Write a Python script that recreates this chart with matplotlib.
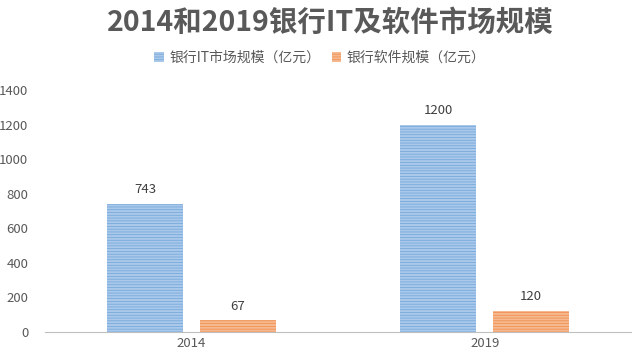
import matplotlib
matplotlib.use('Agg')
import matplotlib.pyplot as plt
import numpy as np

plt.rcParams['font.family'] = ['Noto Sans CJK SC', 'DejaVu Sans']
plt.rcParams['hatch.linewidth'] = 0.5

years = ['2014', '2019']
it_market = [743, 1200]
software = [67, 120]
series_names = ['银行IT市场规模（亿元）', '银行软件规模（亿元）']

fig = plt.figure(figsize=(6.4, 3.59), dpi=100)
ax = fig.add_axes([0.0703, 0.0752, 0.916, 0.674])

x = np.arange(len(years))
w = 0.26
off = 0.158
b1 = ax.bar(x - off, it_market, w, color='#a9c8ea', edgecolor='#6fa5da',
            linewidth=0, hatch='------', label=series_names[0])
b2 = ax.bar(x + off, software, w, color='#f6b88e', edgecolor='#ef8a48',
            linewidth=0, hatch='------', label=series_names[1])

for bars, vals in [(b1, it_market), (b2, software)]:
    for r, v in zip(bars, vals):
        ax.text(r.get_x() + r.get_width() / 2, v + 45, str(v),
                ha='center', va='bottom', fontsize=9.5, color='#404040')

ax.set_xlim(-0.5, 1.5)
ax.set_ylim(0, 1400)
ax.set_yticks(range(0, 1401, 200))
ax.set_xticks(x)
ax.set_xticklabels(years)
ax.tick_params(axis='both', length=0, labelsize=9.5, labelcolor='#595959')
ax.tick_params(axis='y', pad=12)
for s in ['top', 'right', 'left']:
    ax.spines[s].set_visible(False)
ax.spines['bottom'].set_color('#bfbfbf')

fig.text(0.516, 0.935, '2014和2019银行IT及软件市场规模', ha='center', va='center',
         fontsize=20.5, fontweight='bold', color='#595959')
fig.legend(handles=[b1, b2], loc='center', bbox_to_anchor=(0.5, 0.838), ncol=2,
           frameon=False, fontsize=10, handlelength=0.7, handleheight=0.7,
           columnspacing=0.8, handletextpad=0.4, labelcolor='#595959')

fig.savefig('out.png', dpi=100)
